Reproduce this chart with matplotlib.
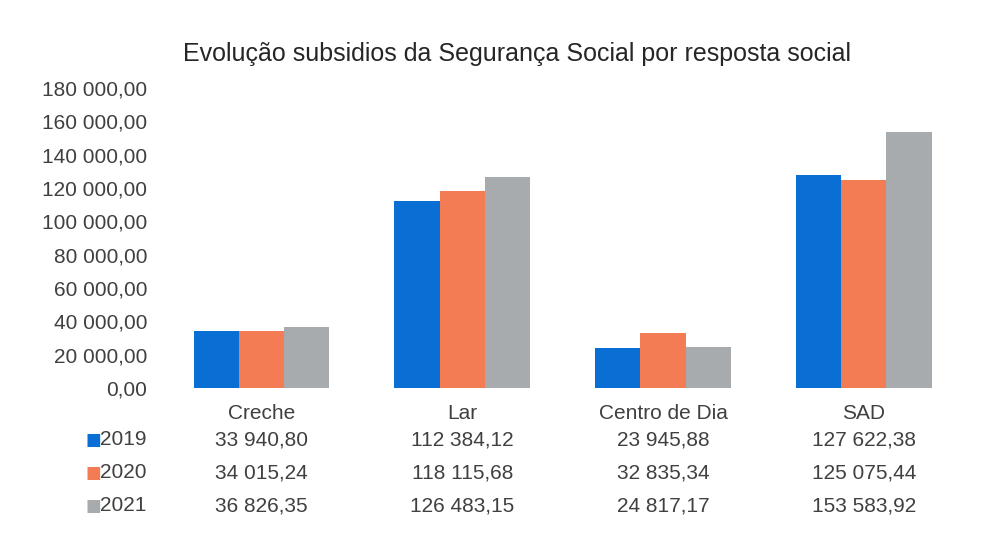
import matplotlib
matplotlib.use("Agg")
import matplotlib.pyplot as plt
import numpy as np

plt.rcParams['font.family'] = ['Liberation Sans', 'DejaVu Sans']

categories = ["Creche", "Lar", "Centro de Dia", "SAD"]
years = ["2019", "2020", "2021"]
v2019 = [33940.80, 112384.12, 23945.88, 127622.38]
v2020 = [34015.24, 118115.68, 32835.34, 125075.44]
v2021 = [36826.35, 126483.15, 24817.17, 153583.92]
series = [v2019, v2020, v2021]
colors = ["#0A6FD4", "#F47C54", "#A7ABAE"]
yticks = np.arange(0, 180001, 20000)

def fmt(v):
    s = f"{v:,.2f}"
    return s.replace(",", " ").replace(".", ",")

fig = plt.figure(figsize=(9.94, 5.44), dpi=100)
ax_bottom, ax_height = 0.287, 0.551
ax = fig.add_axes([0.162, ax_bottom, 0.808, ax_height])
x = np.arange(len(categories))
w = 0.225
for i, (vals, c) in enumerate(zip(series, colors)):
    ax.bar(x + (i - 1) * w, vals, width=w, color=c, label=years[i])

ax.set_xlim(-0.5, len(categories) - 0.5)
ax.set_ylim(0, 180000)
ax.set_yticks(yticks)
ax.set_yticklabels([fmt(t) for t in yticks], fontsize=15, color="#404040")
ax.set_xticks([])
for s in ax.spines.values():
    s.set_visible(False)
ax.tick_params(axis='y', length=0, pad=10)

tr = ax.get_xaxis_transform()
ax_h_px = ax_height * 544
def yrow(px_below):
    return -px_below / ax_h_px

for j, cat in enumerate(categories):
    ax.text(x[j], yrow(26), cat, transform=tr, ha='center', va='center', fontsize=15, color="#404040")
    for i, vals in enumerate(series):
        ax.text(x[j], yrow(52 + 33 * i), fmt(vals[j]), transform=tr, ha='center', va='center',
                fontsize=15, color="#404040")

for i, (yr, c) in enumerate(zip(years, colors)):
    yy = ax_bottom + yrow(52 + 33 * i) * ax_height
    fig.text(0.086, yy, "■", ha='left', va='center', fontsize=12, color=c, family=['DejaVu Sans'])
    fig.text(0.101, yy, yr, ha='left', va='center', fontsize=15, color="#404040")

fig.text(0.52, 0.900, "Evolução subsidios da Segurança Social por resposta social",
         ha='center', va='center', fontsize=18, color="#262626")

fig.savefig("out.png", dpi=100, facecolor="white")
